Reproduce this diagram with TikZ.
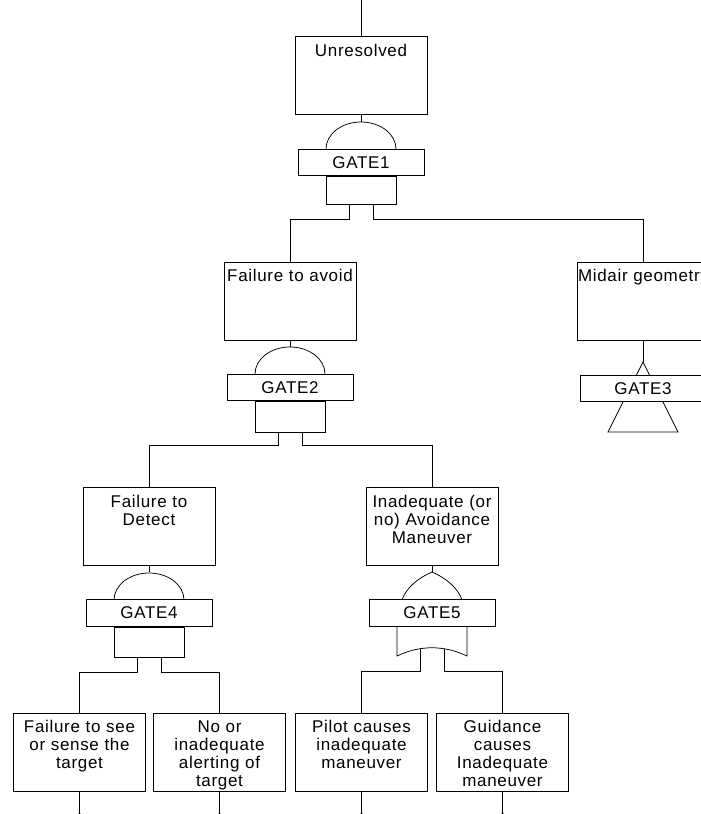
\documentclass[tikz,border=0pt]{standalone}
\usepackage{fontspec}
\setmainfont{Liberation Sans}[LetterSpace=4]
\newcommand\fs{\fontsize{17pt}{18pt}\selectfont}
\newcommand\andarc[2]{\draw[wire] ({#1-35},#2) .. controls ({#1-35},{#2-15}) and ({#1-19.3},{#2-27}) .. (#1,{#2-27}) .. controls ({#1+19.3},{#2-27}) and ({#1+35},{#2-15}) .. ({#1+35},#2);}
\tikzset{
  wire/.style={line width=0.75pt},
  ev/.style={draw, line width=0.75pt, minimum width=132pt, minimum height=78pt, inner sep=0pt, anchor=north},
  evtext/.style={text width=130pt, align=center, anchor=base, inner sep=0pt, font=\fs},
  gatebox/.style={draw, fill=white, line width=0.75pt, minimum width=126pt, minimum height=26.5pt, inner sep=0pt, font=\fs},
  gin/.style={draw, line width=0.75pt, minimum width=70pt, inner sep=0pt, anchor=north},
  tick/.style={fill=black}
}
\begin{document}
\begin{tikzpicture}[x=1pt,y=-1pt]
\useasboundingbox (0,0) rectangle (701,814);
\clip (0,0) rectangle (701,814);

% ---------- level 0 ----------
\coordinate (topin) at (361,0);
\node[ev] (unres) at (361,36) {};
\node[evtext] (unrest) at ([yshift=-20pt]unres.north) {Unresolved};
\draw[wire] (topin) -- (unres.north);
\coordinate (g1top) at (361,122);
\draw[wire] (unres.south) -- (g1top);
\andarc{361}{149}
\node[gatebox] (g1) at (361,162.5) {GATE1};
\node[gin, minimum height=28pt] (g1in) at (g1.south) {};

% ---------- level 1 ----------
\node[ev] (fta) at (290,262) {};
\node[evtext] (ftat) at ([yshift=-19pt]fta.north) {Failure to avoid};
\node[ev] (mid) at (643,262) {};
\node[evtext] (midt) at ([yshift=-19pt]mid.north) {Midair geometry};
\draw[wire] ([xshift=-12pt]g1in.south) -- ++(0,14) -| (fta.north);
\draw[wire] ([xshift=12pt]g1in.south) -- ++(0,14) -| (mid.north);

\coordinate (g2top) at (290,347);
\draw[wire] (fta.south) -- (g2top);
\andarc{290}{374}
\node[gatebox] (g2) at (290,387.5) {GATE2};
\node[gin, minimum height=31pt] (g2in) at (g2.south) {};

\coordinate (g3top) at (643,362);
\draw[wire] (mid.south) -- (g3top);
\draw[wire] (g3top) -- (608,432) -- (678,432) -- cycle;
\node[gatebox] (g3) at (643,388.5) {GATE3};

% ---------- level 2 ----------
\node[ev] (ftd) at (149,487) {};
\node[evtext] (ftdt) at ([yshift=-20pt]ftd.north) {Failure to\\Detect};
\node[ev] (ina) at (432,487) {};
\node[evtext] (inat) at ([yshift=-20pt]ina.north) {Inadequate (or\\no) Avoidance\\Maneuver};
\draw[wire] ([xshift=-12pt]g2in.south) -- ++(0,12) -| (ftd.north);
\draw[wire] ([xshift=12pt]g2in.south) -- ++(0,12) -| (ina.north);

\coordinate (g4top) at (149,572);
\draw[wire] (ftd.south) -- (g4top);
\andarc{149}{600}
\node[gatebox] (g4) at (149,613) {GATE4};
\node[gin, minimum height=30pt] (g4in) at (g4.south) {};

\coordinate (g5top) at (432,572);
\draw[wire] (ina.south) -- (g5top);
\draw[wire] (402,600) .. controls (406,588) and (418,578) .. (g5top) .. controls (446,578) and (458,588) .. (462,600);
\node[gatebox] (g5) at (432,613) {GATE5};
\draw[wire] (397,626) -- (397,656) .. controls (420,645) and (444,645) .. (467,656) -- (467,626);
\coordinate (g5l) at (420,648.6);
\coordinate (g5r) at (444,648.6);

% ---------- level 3 ----------
\node[ev] (b1) at (79.5,713) {};
\node[evtext] (b1t) at ([yshift=-19pt]b1.north) {Failure to see\\or sense the\\target};
\node[ev] (b2) at (219.5,713) {};
\node[evtext] (b2t) at ([yshift=-19pt]b2.north) {No or\\inadequate\\alerting of\\target};
\node[ev] (b3) at (361.5,713) {};
\node[evtext] (b3t) at ([yshift=-19pt]b3.north) {Pilot causes\\inadequate\\maneuver};
\node[ev] (b4) at (502.5,713) {};
\node[evtext] (b4t) at ([yshift=-19pt]b4.north) {Guidance\\causes\\Inadequate\\maneuver};

\draw[wire] ([xshift=-12pt]g4in.south) -- ++(0,15) -| (b1.north);
\draw[wire] ([xshift=12pt]g4in.south) -- ++(0,15) -| (b2.north);
\draw[wire] (g5l) -- (420,671) -| (b3.north);
\draw[wire] (g5r) -- (444,671) -| (b4.north);

\foreach \b in {b1,b2,b3,b4}{
  \coordinate (\b end) at ([yshift=-23pt]\b.south);
  \draw[wire] (\b.south) -- (\b end);
  \fill[tick] ([yshift=3pt]\b end) -- ([xshift=-2pt,yshift=-1pt]\b end) -- ([xshift=2pt,yshift=-1pt]\b end) -- cycle;
}
\end{tikzpicture}
\end{document}
